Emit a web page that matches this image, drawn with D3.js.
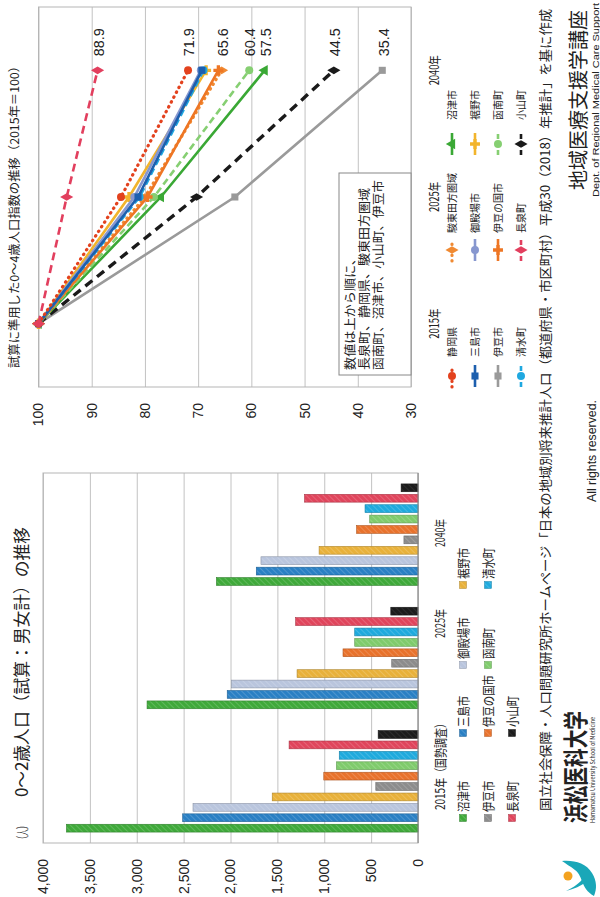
<!DOCTYPE html>
<html>
<head>
<meta charset="utf-8">
<script src="https://cdn.jsdelivr.net/npm/d3@7"></script>
<style>
  body { margin: 0; background: #fff; }
  text { font-family: "Noto Sans CJK JP", "Noto Sans", sans-serif; fill: #222; }
</style>
</head>
<body>
<div id="chart"></div>
<script>
// ---- data ----
const years = ["2015年", "2025年", "2040年"];

const barCities = ["沼津市", "三島市", "御殿場市", "裾野市", "伊豆市", "伊豆の国市", "函南町", "清水町", "長泉町", "小山町"];
const pop2015 = [3750, 2510, 2400, 1555, 450, 1005, 870, 840, 1375, 425];
const pop2025 = [2890, 2035, 1990, 1290, 280, 800, 675, 675, 1305, 290];
const pop2040 = [2150, 1725, 1675, 1055, 150, 655, 515, 565, 1210, 180];
const barTicks = [0, 500, 1000, 1500, 2000, 2500, 3000, 3500, 4000];
const barColors = ["#3fa93a", "#2a80c4", "#b9c5dd", "#e8b13a", "#8c8c8c", "#e8722c", "#7fcb6c", "#1faadd", "#e0455c", "#1c1c1c"];

const lineSeries = ["静岡県", "駿東田方圏域", "沼津市", "三島市", "御殿場市", "裾野市", "伊豆市", "伊豆の国市", "函南町", "清水町", "長泉町", "小山町"];
const idx2015 = [100, 100, 100, 100, 100, 100, 100, 100, 100, 100, 100, 100];
const idx2025 = [84.5, 80.0, 77.0, 81.3, 82.0, 83.0, 63.1, 79.5, 78.3, 81.0, 94.7, 70.3];
const idx2040 = [71.9, 65.6, 57.5, 69.3, 69.5, 68.5, 35.4, 66.2, 60.4, 69.0, 88.9, 44.5];
const labeledSeries = ["長泉町", "静岡県", "駿東田方圏域", "函南町", "沼津市", "小山町", "伊豆市"];
const lineTicks = [30, 40, 50, 60, 70, 80, 90, 100];
const lineColors = ["#e3421e", "#f08a32", "#3aa835", "#1d5fae", "#8797cf", "#f2b42c", "#9a9a9a", "#ee7624", "#86cf72", "#1fa8e0", "#e23f5e", "#1a1a1a"];
const lineDash = ["0.5,5", "0.5,5", null, null, null, null, null, null, "7,4", "7,4", "8,5", "9,6"];
const lineMarker = ["circle", "diamond", "triangle", "square", "circle", "cross", "square", "cross", "circle", "circle", "diamond", "diamond"];

const noteLines = ["数値は上から順に、", "長泉町、静岡県、駿東田方圏域", "函南町、沼津市、小山町、伊豆市"];

// ---- page (drawn landscape, turned to fit the portrait window) ----
const W = 897, H = 600;
const svg = d3.select("#chart").append("svg")
    .attr("width", H)
    .attr("height", W);
const defs = svg.append("defs");
const page = svg.append("g")
    .attr("transform", `translate(0,${W}) rotate(-90)`);

function txt(x, y, s, size, len, anchor) {
    const t = page.append("text")
        .attr("x", x).attr("y", y).attr("dy", "0.35em")
        .attr("font-size", size)
        .attr("text-anchor", anchor || "start")
        .text(s);
    if (len) t.attr("textLength", len).attr("lengthAdjust", "spacingAndGlyphs");
    return t;
}

// hatch patterns for the bars
barColors.forEach((c, i) => {
    const p = defs.append("pattern")
        .attr("id", "hatch" + i)
        .attr("width", 4).attr("height", 4)
        .attr("patternUnits", "userSpaceOnUse")
        .attr("patternTransform", "rotate(45)");
    p.append("rect").attr("width", 4).attr("height", 4).attr("fill", c);
    p.append("line")
        .attr("x1", 0).attr("y1", 0).attr("x2", 0).attr("y2", 4)
        .attr("stroke", "#fff").attr("stroke-opacity", i === 9 ? 0.12 : 0.28)
        .attr("stroke-width", 1.2);
});

// ================= bar chart =================
const bar = { left: 54, right: 424, top: 43, bottom: 418 };
const popByYear = [pop2015, pop2025, pop2040];

const bx = d3.scaleBand().domain(years).range([bar.left, bar.right]);
const bInner = d3.scaleBand().domain(barCities)
    .range([0, bx.bandwidth()])
    .paddingInner(0.25).paddingOuter(1.05);
const by = d3.scaleLinear().domain([0, 4000]).range([bar.bottom, bar.top]);

const bAxis = page.append("g")
    .attr("transform", `translate(${bar.left},0)`)
    .call(d3.axisLeft(by).tickValues(barTicks)
        .tickSize(-(bar.right - bar.left)).tickPadding(16)
        .tickFormat(d3.format(",")));
bAxis.select(".domain").remove();
bAxis.selectAll(".tick line").attr("stroke", "#c2c2c2");
bAxis.selectAll(".tick text")
    .attr("font-size", 14).attr("fill", "#222")
    .style("font-family", "'Liberation Sans', Arial, sans-serif");

page.append("rect")
    .attr("x", bar.left).attr("y", bar.top)
    .attr("width", bar.right - bar.left).attr("height", bar.bottom - bar.top)
    .attr("fill", "none").attr("stroke", "#b5b5b5");

years.forEach((yr, i) => {
    page.append("g").selectAll("rect")
        .data(barCities.map((c, j) => ({ c, j, v: popByYear[i][j] })))
        .join("rect")
        .attr("x", d => bx(yr) + bInner(d.c))
        .attr("y", d => by(d.v))
        .attr("width", bInner.bandwidth())
        .attr("height", d => by(0) - by(d.v))
        .attr("fill", d => `url(#hatch${d.j})`)
        .attr("stroke", d => d3.color(barColors[d.j]).darker(0.8))
        .attr("stroke-width", 0.6);
});

page.append("line")
    .attr("x1", bar.left).attr("x2", bar.right)
    .attr("y1", by(0)).attr("y2", by(0))
    .attr("stroke", "#8a8a8a");

txt(54, 22, "（人）", 13, 21);
txt(100, 22, "0～2歳人口（試算：男女計）の推移", 17, 270);

// category labels (placed as in the source, not centred)
txt(87, 440, "2015年（国勢調査）", 13, 92);
txt(259, 440, years[1], 13, 29);
txt(350, 440, years[2], 13, 28);

// legend
const bLegX = [79, 164, 232, 312];
const bLegY = [463, 488, 512];
barCities.forEach((c, j) => {
    const lx0 = bLegX[j % 4], ly0 = bLegY[Math.floor(j / 4)];
    page.append("rect")
        .attr("x", lx0 - 3.5).attr("y", ly0 - 3.5)
        .attr("width", 7).attr("height", 7)
        .attr("fill", `url(#hatch${j})`)
        .attr("stroke", d3.color(barColors[j]).darker(0.8)).attr("stroke-width", 0.5);
    txt(lx0 + 6, ly0, c, 13, c.length * 10.4);
});

// ================= line chart =================
const lc = { left: 510, right: 890 };
const lx = d3.scaleBand().domain(years).range([lc.left, lc.right]);
const ly = d3.scaleLinear().domain([30, 100]).range([411, 38.5]);

const lAxis = page.append("g")
    .attr("transform", `translate(${lc.left},0)`)
    .call(d3.axisLeft(ly).tickValues(lineTicks)
        .tickSize(-(lc.right - lc.left)).tickPadding(16));
lAxis.select(".domain").remove();
lAxis.selectAll(".tick line").attr("stroke", "#c2c2c2");
lAxis.selectAll(".tick text")
    .attr("font-size", 14).attr("fill", "#222")
    .style("font-family", "'Liberation Sans', Arial, sans-serif");

page.append("rect")
    .attr("x", lc.left).attr("y", ly(100))
    .attr("width", lc.right - lc.left).attr("height", ly(30) - ly(100))
    .attr("fill", "none").attr("stroke", "#b5b5b5");

txt(529, 15, "試算に準用した0～4歳人口指数の推移（2015年＝100）", 12, 308);

// note box
page.append("rect")
    .attr("x", 522).attr("y", 339)
    .attr("width", 202).attr("height", ly(30) - 339)
    .attr("fill", "#fff").attr("stroke", "#888");
const noteLens = [118, 182, 190];
noteLines.forEach((s, i) => txt(527, 351 + i * 14, s, 12.5, noteLens[i]));

const lineData = lineSeries.map((name, i) => ({
    name, i,
    values: [idx2015[i], idx2025[i], idx2040[i]].map((v, k) => ({ year: years[k], v }))
}));

const cx = yr => lx(yr) + lx.bandwidth() / 2;
const lineGen = d3.line().x(d => cx(d.year)).y(d => ly(d.v));

const symbolOf = {
    circle: d3.symbolCircle, diamond: d3.symbolDiamond, triangle: d3.symbolTriangle,
    square: d3.symbolSquare, cross: d3.symbolCross
};

function markerPath(i) {
    return d3.symbol().type(symbolOf[lineMarker[i]]).size(lineMarker[i] === "cross" ? 55 : 50)();
}

const isDotted = i => lineDash[i] && lineDash[i].startsWith("0.5");

// draw so the lower lines sit underneath
const drawOrder = [6, 11, 2, 8, 1, 7, 5, 9, 4, 3, 0, 10];
drawOrder.forEach(i => {
    const s = lineData[i];
    page.append("path")
        .attr("d", lineGen(s.values))
        .attr("fill", "none")
        .attr("stroke", lineColors[i])
        .attr("stroke-width", isDotted(i) ? 3.2 : (i === 11 ? 3.4 : 2.6))
        .attr("stroke-linecap", isDotted(i) ? "round" : "butt")
        .attr("stroke-dasharray", lineDash[i]);
    page.append("g").selectAll("path")
        .data(s.values)
        .join("path")
        .attr("transform", d => `translate(${cx(d.year)},${ly(d.v)})`)
        .attr("d", markerPath(i))
        .attr("fill", lineColors[i]);
});

labeledSeries.forEach(name => {
    const i = lineSeries.indexOf(name);
    page.append("text")
        .attr("x", cx(years[2]) + 14)
        .attr("y", ly(idx2040[i]) + 1)
        .attr("dy", "0.35em")
        .attr("font-size", 15)
        .style("font-family", "'Liberation Sans', Arial, sans-serif")
        .attr("textLength", 28).attr("lengthAdjust", "spacingAndGlyphs")
        .text(idx2040[i].toFixed(1));
});

years.forEach(yr => txt(cx(yr), 434, yr, 13, 30, "middle"));

// legend
const lLegSym = [510, 636, 742];
const lLegText = [540, 664, 777];
const lLegY = [452, 475, 498, 521];
lineSeries.forEach((name, i) => {
    const col = i % 3, row = Math.floor(i / 3);
    const y0 = lLegY[row], x0 = lLegSym[col];
    page.append("line")
        .attr("x1", x0).attr("x2", x0 + 22)
        .attr("y1", y0).attr("y2", y0)
        .attr("stroke", lineColors[i])
        .attr("stroke-width", isDotted(i) ? 3.2 : 2.6)
        .attr("stroke-linecap", isDotted(i) ? "round" : "butt")
        .attr("stroke-dasharray", lineDash[i] ? (isDotted(i) ? "0.5,5" : "5,3") : null);
    page.append("path")
        .attr("transform", `translate(${x0 + 11},${y0})`)
        .attr("d", markerPath(i))
        .attr("fill", lineColors[i]);
    txt(lLegText[col], y0, name, 10.5, name.length * 10);
});

// ================= footer =================
txt(86, 545, "国立社会保障・人口問題研究所ホームページ「日本の地域別将来推計人口（都道府県・市区町村）平成30（2018）年推計」を基に作成", 13, 802);

// logo mark
page.append("path")
    .attr("d", "M1,594 C9,580 20,584 27,575 C31,570 33,566 36,562 C37,574 34,586 24,592 C16,597 8,597 1,594 Z")
    .attr("fill", "#1aa7b8");
page.append("path")
    .attr("d", "M6,566 C10,574 14,580 20,584 L16,587 C11,581 8,574 6,566 Z")
    .attr("fill", "#1aa7b8");
page.append("circle").attr("cx", 21).attr("cy", 568).attr("r", 4.5).attr("fill", "#f3a21f");

txt(74, 576, "浜松医科大学", 25, 112).attr("font-weight", 700);
txt(74, 593, "Hamamatsu University School of Medicine", 6, 106).attr("fill", "#333");

txt(395, 591, "All rights reserved.", 13, 102)
    .style("font-family", "'Liberation Sans', Arial, sans-serif");

txt(707, 579, "地域医療支援学講座", 20, 180);
txt(700, 596, "Dept. of Regional Medical Care Support", 9, 194)
    .attr("fill", "#555")
    .style("font-family", "'Liberation Sans', Arial, sans-serif");
</script>
</body>
</html>
